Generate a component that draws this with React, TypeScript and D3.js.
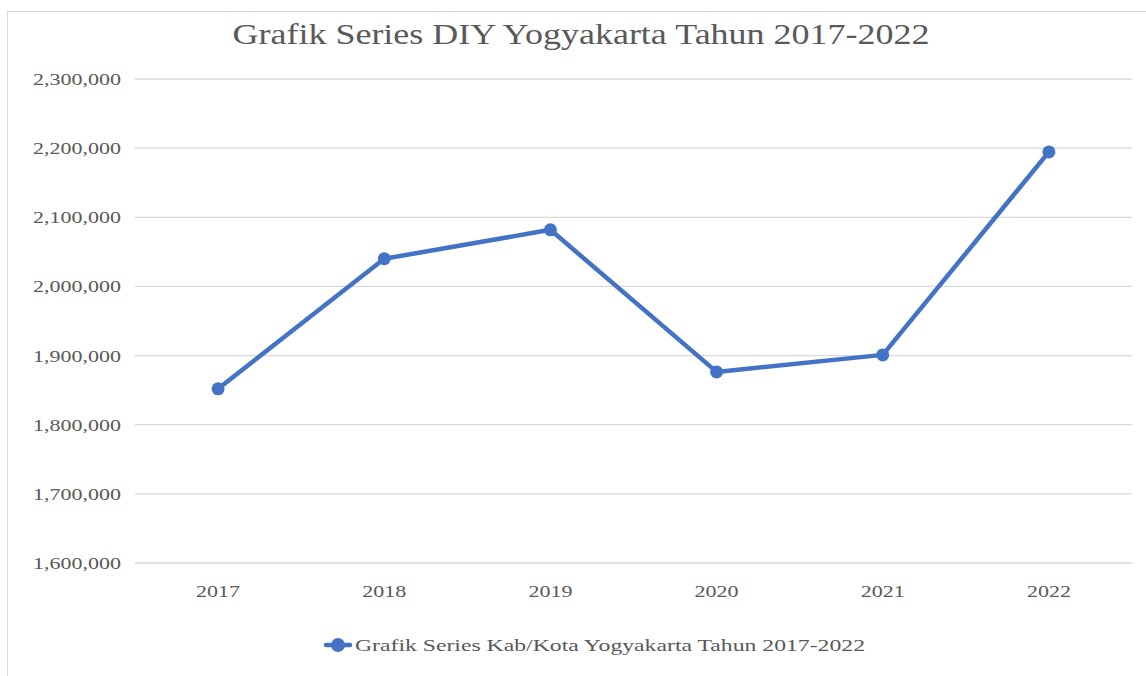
import React from 'react';
import * as d3 from 'd3';

const years = ['2017', '2018', '2019', '2020', '2021', '2022'];
const values = [1851900, 2040000, 2081900, 1876400, 1901000, 2194600];
const yTicks = [1600000, 1700000, 1800000, 1900000, 2000000, 2100000, 2200000, 2300000];

const W = 1146;
const H = 676;
const font = '"Liberation Serif", "Times New Roman", serif';
const blue = '#4472c4';
const textColor = '#595959';

export default function App() {
  const x = d3.scalePoint<string>().domain(years).range([135, 1132]).padding(0.5);
  const y = d3.scaleLinear().domain([1600000, 2300000]).range([563, 79]);
  const fmt = d3.format(',');

  const line = d3.line<number>()
    .x((_, i) => x(years[i]) as number)
    .y(d => y(d));

  return (
    <svg width={W} height={H} style={{ position: 'absolute', left: 0, top: 0, background: '#fff' }}>
      <rect x={7.5} y={11.5} width={1150} height={700} fill="#fff" stroke="#d9d9d9" />

      <text x={581} y={44} textAnchor="middle" fontFamily={font} fontSize={29} fill={textColor}
        textLength={697} lengthAdjust="spacingAndGlyphs">
        Grafik Series DIY Yogyakarta Tahun 2017-2022
      </text>

      {yTicks.map(t => (
        <g key={t}>
          <line x1={135} x2={1132} y1={y(t)} y2={y(t)} stroke="#d9d9d9" strokeWidth={1.3} />
          <text x={121} y={y(t)} dy="0.35em" textAnchor="end" fontFamily={font} fontSize={17}
            fill={textColor} textLength={88} lengthAdjust="spacingAndGlyphs">
            {fmt(t)}
          </text>
        </g>
      ))}

      {years.map(yr => (
        <text key={yr} x={x(yr)} y={597} textAnchor="middle" fontFamily={font} fontSize={17}
          fill={textColor} textLength={44} lengthAdjust="spacingAndGlyphs">
          {yr}
        </text>
      ))}

      <path d={line(values) ?? ''} fill="none" stroke={blue} strokeWidth={4.5}
        strokeLinejoin="round" strokeLinecap="round" />
      {values.map((v, i) => (
        <circle key={years[i]} cx={x(years[i])} cy={y(v)} r={6.5} fill={blue} />
      ))}

      <g>
        <line x1={326} x2={350} y1={645} y2={645} stroke={blue} strokeWidth={4.5} strokeLinecap="round" />
        <circle cx={338} cy={645} r={7} fill={blue} />
        <text x={355} y={651} fontFamily={font} fontSize={17} fill={textColor}
          textLength={510} lengthAdjust="spacingAndGlyphs">
          Grafik Series Kab/Kota Yogyakarta Tahun 2017-2022
        </text>
      </g>
    </svg>
  );
}
